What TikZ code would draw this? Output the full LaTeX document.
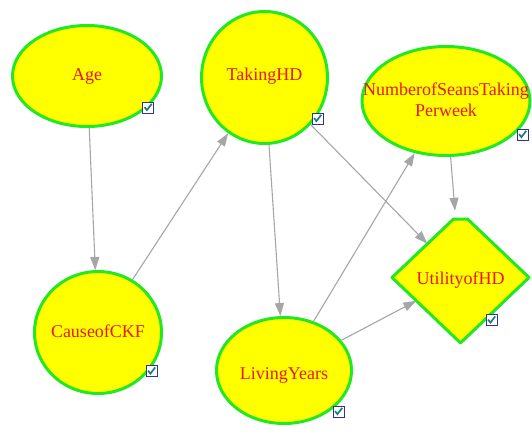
\documentclass[tikz,border=0pt]{standalone}
\usepackage{fontspec}
\setmainfont{Liberation Serif}
\usetikzlibrary{shapes.geometric,arrows.meta,calc}

\definecolor{rimgreen}{RGB}{34,232,34}
\definecolor{bodyyellow}{RGB}{255,255,0}
\definecolor{captionred}{RGB}{232,24,24}
\definecolor{linkgray}{RGB}{166,166,166}
\definecolor{boxnavy}{RGB}{48,52,140}
\definecolor{tickteal}{RGB}{30,120,140}

\tikzset{
  chance/.style={ellipse, draw=rimgreen, line width=3pt, fill=bodyyellow, inner sep=0pt},
  caption/.style={text=captionred, font=\fontsize{18}{21}\selectfont, align=center, inner sep=0pt},
  link/.style={draw=linkgray, line width=1.1pt, -{Triangle[length=13pt,width=9pt]}},
  tickbox/.style={draw=boxnavy, fill=white, line width=1pt, minimum size=11pt, inner sep=0pt,
    path picture={\draw[tickteal, line width=1.7pt]
      ($(path picture bounding box.center)+(-3.4,-0.4)$) -- ++(2.3,3) -- ++(4.8,-6.2);}}
}

\begin{document}
\begin{tikzpicture}[x=1pt,y=-1pt]
\useasboundingbox (0,0) rectangle (532,434);

% chance nodes
\node[chance, minimum width=149pt, minimum height=101pt,
      label={[caption]center:Age}] (age) at (87,76) {};
\node[chance, minimum width=126pt, minimum height=132pt,
      label={[caption, yshift=1pt]center:TakingHD}] (taking) at (264.5,77.5) {};
\node[chance, minimum width=168pt, minimum height=109pt,
      label={[caption, yshift=1pt]center:NumberofSeansTaking\\Perweek}] (num) at (446,101) {};
\node[chance, minimum width=127pt, minimum height=122pt,
      label={[caption, yshift=1pt]center:CauseofCKF}] (cause) at (98,332.5) {};
\node[chance, minimum width=135pt, minimum height=106pt,
      label={[caption, yshift=-4.5pt]center:LivingYears}] (living) at (284,370.5) {};

% utility node: diamond with a clipped top
\node[diamond, draw=none, inner sep=0pt, outer sep=1.5pt,
      minimum width=134pt, minimum height=128pt] (util) at (460.5,277.5) {};
\filldraw[draw=rimgreen, fill=bodyyellow, line width=3pt, line join=round]
  (util.west) -- ($(util.north)+(-7,7)$) -- ($(util.north)+(7,7)$)
  -- (util.east) -- (util.south) -- cycle;
\node[caption] (util-t) at (460.5,280.5) {UtilityofHD};

% links
\draw[link] (age) -- (cause);
\draw[link] (cause) -- (taking);
\draw[link] (taking) -- (living);
\draw[link] (taking) -- (util);
\draw[link] (living) -- (num);
\draw[link] (living) -- (util);
\draw[link, shorten >=6pt] (num) -- (util);

% check boxes
\node[tickbox] (age-c) at (148,107.5) {};
\node[tickbox] (taking-c) at (317.5,118.5) {};
\node[tickbox] (num-c) at (522.5,134.5) {};
\node[tickbox] (util-c) at (491.5,320) {};
\node[tickbox] (cause-c) at (151.5,371) {};
\node[tickbox] (living-c) at (338.5,411.5) {};
\end{tikzpicture}
\end{document}
